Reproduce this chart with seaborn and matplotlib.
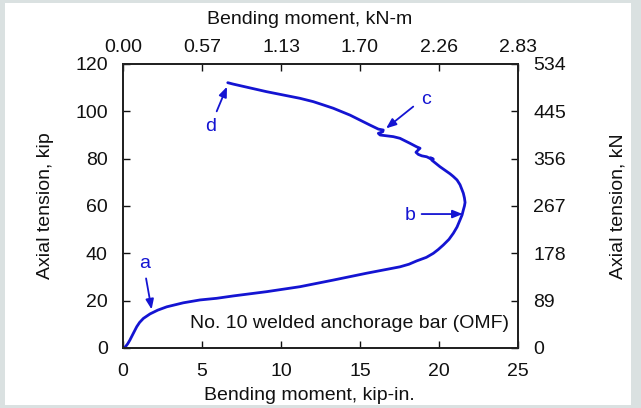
import matplotlib
matplotlib.use("Agg")
import matplotlib.pyplot as plt
import seaborn as sns
import pandas as pd
from matplotlib.patches import Rectangle

# ---- data ----
moment_kipin = [0, 0.15, 0.3, 0.44, 0.6, 0.87, 1.05, 1.29, 1.71, 2.2, 2.77, 3.82, 4.87,
                5.93, 6.98, 9.09, 11.2, 13.31, 15.42, 17.53, 18.1, 18.59, 19.2, 19.64,
                19.95, 20.27, 20.63, 20.91, 21.14, 21.33, 21.46, 21.54, 21.61, 21.65,
                21.61, 21.54, 21.46, 21.33, 21.14, 20.9, 20.7, 20.06, 19.54, 19.47,
                19.64, 19.43, 19.22, 18.91, 18.69, 18.54, 18.69, 18.80, 18.59, 18.16,
                17.53, 17.11, 16.27, 16.16, 16.44, 16.47, 16.16, 15.63, 15.0, 14.37,
                13.31, 12.68, 12.04, 11.2, 9.09, 6.98, 6.63]
tension_kip = [0, 0.5, 1.8, 3.4, 5.5, 9.0, 10.8, 12.5, 14.4, 16.0, 17.4, 19.1, 20.3,
               21.0, 22.0, 23.8, 25.9, 28.7, 31.6, 34.3, 35.4, 36.8, 38.3, 40.0,
               41.6, 43.5, 45.9, 48.5, 51.1, 54.1, 56.2, 58.3, 60.0, 61.5,
               63.4, 65.4, 66.8, 69.0, 71.0, 72.5, 73.6, 76.6, 79.4, 80.4,
               79.8, 80.1, 80.8, 81.2, 81.8, 82.7, 83.7, 84.4, 85.0, 86.5,
               88.6, 89.3, 90.0, 90.7, 91.4, 92.1, 92.5, 94.2, 96.3, 98.4,
               101.3, 102.7, 104.1, 105.5, 108.3, 111.5, 112.1]

x_ticks = [0, 5, 10, 15, 20, 25]
top_tick_labels = ["0.00", "0.57", "1.13", "1.70", "2.26", "2.83"]
y_ticks = [0, 20, 40, 60, 80, 100, 120]
right_tick_labels = ["0", "89", "178", "267", "356", "445", "534"]

annot_labels = ["a", "b", "c", "d"]
annot_text_xy = [(1.39, 35.5), (18.16, 55.9), (19.18, 105.0), (5.57, 93.5)]
annot_start_xy = [(1.46, 29.4), (18.9, 56.6), (18.37, 102.0), (5.93, 100.0)]
annot_tip_xy = [(1.81, 16.3), (21.5, 56.6), (16.65, 92.8), (6.58, 110.4)]

df = pd.DataFrame({"moment": moment_kipin, "tension": tension_kip})

sns.set_theme(style="white")
plt.rcParams["font.family"] = ["Liberation Sans", "DejaVu Sans"]

FS = 14
blue = "#1414d2"
ink = "#111111"

fig = plt.figure(figsize=(6.41, 4.08), dpi=100)
fig.patch.set_facecolor("#dae1e1")
fig.patches.append(Rectangle((5 / 641, 3 / 408), 626 / 641, 402 / 408,
                             transform=fig.transFigure, facecolor="white",
                             edgecolor="none", zorder=-10))

ax = fig.add_axes([123 / 641, 60 / 408, 395 / 641, 284 / 408])
ax.set_facecolor("white")
sns.lineplot(data=df, x="moment", y="tension", sort=False, estimator=None,
             color=blue, lw=2.0, ax=ax)

ax.set_xlim(0, 25)
ax.set_ylim(0, 120)
ax.set_xticks(x_ticks)
ax.set_yticks(y_ticks)
ax.set_xticklabels([str(t) for t in x_ticks])
ax.set_yticklabels([str(t) for t in y_ticks])
ax.tick_params(direction="in", length=5, width=1, labelsize=FS, colors=ink,
               pad=11, top=False, right=False)
ax.set_xlabel("Bending moment, kip-in.", fontsize=FS, color=ink, labelpad=5)
ax.xaxis.label.set_x(0.473)
ax.set_ylabel("Axial tension, kip", fontsize=FS, color=ink, labelpad=15)

for s in ax.spines.values():
    s.set_visible(True)
    s.set_color("#222222")
    s.set_linewidth(1.2)

axt = ax.twiny()
axt.set_xlim(0, 25)
axt.set_xticks(x_ticks)
axt.set_xticklabels(top_tick_labels)
axt.tick_params(direction="in", length=5, width=1, labelsize=FS, colors=ink, pad=6)
axt.set_xlabel("Bending moment, kN-m", fontsize=FS, color=ink, labelpad=10.5)
axt.xaxis.label.set_x(0.473)

axr = ax.twinx()
axr.set_ylim(0, 120)
axr.set_yticks(y_ticks)
axr.set_yticklabels(right_tick_labels)
axr.tick_params(direction="in", length=5, width=1, labelsize=FS, colors=ink, pad=11)
axr.set_ylabel("Axial tension, kN", fontsize=FS, color=ink, labelpad=31)
for a in (axt, axr):
    for s in a.spines.values():
        s.set_color("#222222")
        s.set_linewidth(1.2)

for lab, txy, sxy, pxy in zip(annot_labels, annot_text_xy, annot_start_xy, annot_tip_xy):
    ax.text(txy[0], txy[1], lab, color=blue, fontsize=FS, ha="center", va="center")
    ax.annotate("", xy=pxy, xytext=sxy,
                arrowprops=dict(arrowstyle="-|>,head_length=0.5,head_width=0.2",
                                color=blue, lw=1.3, shrinkA=0, shrinkB=0))

ax.text(0.977, 0.088, "No. 10 welded anchorage bar (OMF)", transform=ax.transAxes,
        ha="right", va="center", fontsize=FS, color=ink)

fig.savefig("out.png", dpi=100, facecolor=fig.get_facecolor())
